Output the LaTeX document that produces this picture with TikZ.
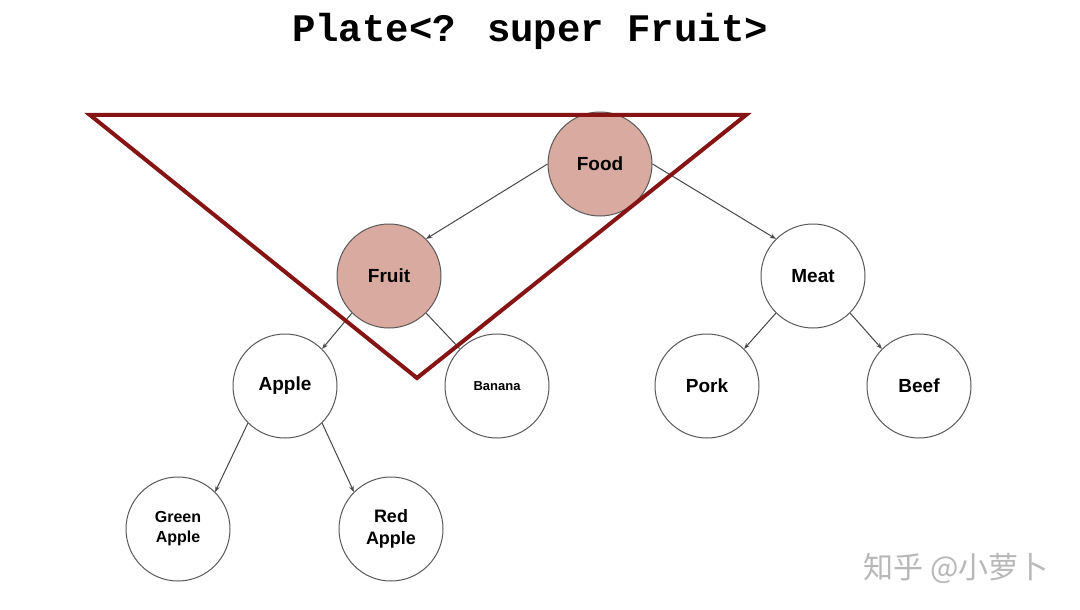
\documentclass[tikz,border=0pt]{standalone}
\usepackage{fontspec}
\setmainfont{Liberation Sans}
\newfontfamily\codefont{Liberation Mono}
\newfontfamily\cjk{Noto Sans CJK SC}
\usetikzlibrary{arrows.meta}
\definecolor{foodpink}{RGB}{217,170,160}
\definecolor{platered}{RGB}{135,20,20}

\begin{document}
\begin{tikzpicture}[x=1pt,y=-1pt,
	ball/.style={circle,draw=black!65,line width=1pt,fill=white,minimum size=104pt,inner sep=0pt,align=center,font=\bfseries\fontsize{19}{21}\selectfont},
	hot/.style={ball,fill=foodpink},
	link/.style={draw=black!72,line width=1pt,-{Stealth[length=6pt,width=4.5pt]}}]
\useasboundingbox[fill=white] (0,0) rectangle (1080,610);
%title
\node[anchor=base] (title) at (530,42) {\codefont\bfseries\fontsize{39}{39}\selectfont Plate<? super Fruit>};
%tree
\node[hot] (food) at (600,164) {Food};
\node[hot] (fruit) at (389,276) {Fruit};
\node[ball] (meat) at (813,276) {Meat};
\node[ball] (apple) at (285,386) {Apple};
\node[ball,font=\bfseries\fontsize{13}{15}\selectfont] (banana) at (497,386) {Banana};
\node[ball] (pork) at (707,386) {Pork};
\node[ball] (beef) at (919,386) {Beef};
\node[ball,font=\bfseries\fontsize{16}{20}\selectfont] (green) at (178,529) {Green\\Apple};
\node[ball,font=\bfseries\fontsize{18}{22}\selectfont] (red) at (391,529) {Red\\Apple};
\draw[link] (food.west) -- (fruit.45);
\draw[link] (food.east) -- (meat.135);
\draw[link] (fruit.225) -- (apple.45);
\draw[link] (fruit.315) -- (banana.135);
\draw[link] (meat.225) -- (pork.45);
\draw[link] (meat.315) -- (beef.135);
\draw[link] (apple.225) -- (green.45);
\draw[link] (apple.315) -- (red.135);
%plate
\coordinate (pl) at (90,115);
\coordinate (pr) at (746,115);
\coordinate (pb) at (417,378);
\draw[platered,line width=4pt,line join=miter] (pl) -- (pr) -- (pb) -- cycle;
%watermark
\node[text=black!28,anchor=base east] (mark) at (1052,578) {\cjk\fontsize{30}{30}\selectfont 知乎 @小萝卜};
\end{tikzpicture}
\end{document}
